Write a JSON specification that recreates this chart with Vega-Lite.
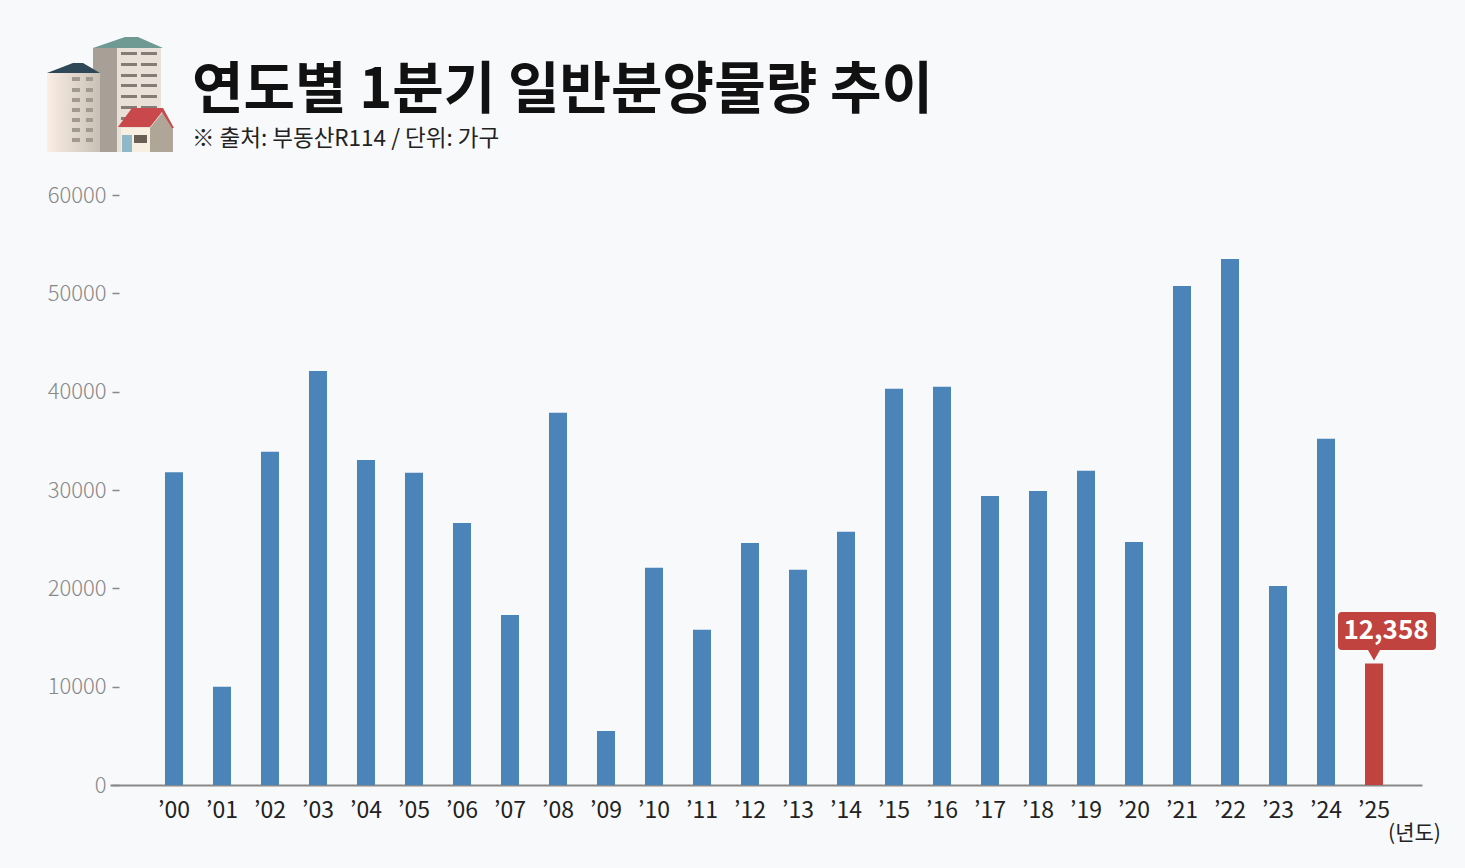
{"$schema":"https://vega.github.io/schema/vega-lite/v6.json","width":1312,"height":590,"autosize":"none","padding":{"left":110,"top":195,"right":43,"bottom":83},"background":"#f8f9fb","title":{"text":"연도별 1분기 일반분양물량 추이","subtitle":"※ 출처: 부동산R114 / 단위: 가구","anchor":"start","frame":"group","dx":82,"offset":-114,"font":"Noto Sans CJK KR","fontSize":56,"fontWeight":"bold","color":"#111111","subtitleFont":"Noto Sans CJK KR","subtitleFontSize":22.5,"subtitleColor":"#222222","subtitleFontWeight":"normal","subtitlePadding":8},"config":{"view":{"stroke":null},"font":"Noto Sans CJK KR"},"data":{"values":[{"year":"’00","units":31800,"kind":"past"},{"year":"’01","units":10000,"kind":"past"},{"year":"’02","units":33900,"kind":"past"},{"year":"’03","units":42100,"kind":"past"},{"year":"’04","units":33050,"kind":"past"},{"year":"’05","units":31750,"kind":"past"},{"year":"’06","units":26650,"kind":"past"},{"year":"’07","units":17300,"kind":"past"},{"year":"’08","units":37850,"kind":"past"},{"year":"’09","units":5500,"kind":"past"},{"year":"’10","units":22100,"kind":"past"},{"year":"’11","units":15800,"kind":"past"},{"year":"’12","units":24600,"kind":"past"},{"year":"’13","units":21900,"kind":"past"},{"year":"’14","units":25750,"kind":"past"},{"year":"’15","units":40300,"kind":"past"},{"year":"’16","units":40500,"kind":"past"},{"year":"’17","units":29400,"kind":"past"},{"year":"’18","units":29900,"kind":"past"},{"year":"’19","units":31950,"kind":"past"},{"year":"’20","units":24700,"kind":"past"},{"year":"’21","units":50750,"kind":"past"},{"year":"’22","units":53500,"kind":"past"},{"year":"’23","units":20250,"kind":"past"},{"year":"’24","units":35200,"kind":"past"},{"year":"’25","units":12358,"kind":"current"}]},"layer":[{"mark":{"type":"bar"},"encoding":{"x":{"field":"year","type":"nominal","sort":null,"scale":{"paddingInner":0.625,"paddingOuter":0.979,"align":0.585},"axis":{"title":"(년도)","titleFont":"Noto Sans CJK KR","titleFontSize":21,"titleFontWeight":"normal","titleColor":"#222222","titleX":1304,"titleY":48,"titleAlign":"center","titleBaseline":"middle","labelAngle":0,"labelFontSize":23,"labelColor":"#222222","labelPadding":14,"ticks":false,"domainColor":"#888888","domainWidth":2,"grid":false}},"y":{"field":"units","type":"quantitative","scale":{"domain":[0,60000],"nice":false},"axis":{"title":null,"values":[0,10000,20000,30000,40000,50000,60000],"format":"d","offset":-9,"domain":false,"grid":false,"tickSize":7,"tickColor":"#888888","tickWidth":1.5,"labelFontSize":22,"labelFontWeight":300,"labelColor":"#888888","labelPadding":6}},"color":{"field":"kind","type":"nominal","scale":{"domain":["past","current"],"range":["#4a84b8","#c0433f"]},"legend":null}}},{"transform":[{"filter":"datum.kind === 'current'"}],"mark":{"type":"point","filled":true,"opacity":1,"size":4,"color":"#c0433f","strokeWidth":0,"shape":"M-32 -51.5H58Q62 -51.5 62 -47.5V-17.5Q62 -13.5 58 -13.5H6L0 -3L-6 -13.5H-32Q-36 -13.5 -36 -17.5V-47.5Q-36 -51.5 -32 -51.5Z"},"encoding":{"x":{"field":"year","type":"nominal","sort":null},"y":{"field":"units","type":"quantitative"}}},{"transform":[{"filter":"datum.kind === 'current'"}],"mark":{"type":"text","font":"Noto Sans CJK KR","fontSize":26,"fontWeight":"bold","color":"#ffffff","dx":12,"dy":-32,"align":"center","baseline":"middle"},"encoding":{"x":{"field":"year","type":"nominal","sort":null},"y":{"field":"units","type":"quantitative"},"text":{"field":"units","type":"quantitative","format":","}}},{"data":{"values":[{"anchor":"icon"}]},"encoding":{"x":{"datum":"’00","type":"nominal"},"y":{"datum":60000,"type":"quantitative"}},"layer":[{"mark":{"type":"point","filled":true,"opacity":1,"size":4,"strokeWidth":0,"color":"#a8a096","shape":"M-81 -147H-57V-43H-81Z"}},{"mark":{"type":"point","filled":true,"opacity":1,"size":4,"strokeWidth":0,"color":"#e9e0d8","shape":"M-57 -147H-13V-43H-57Z"}},{"mark":{"type":"point","filled":true,"opacity":1,"size":4,"strokeWidth":0,"color":"#6f9a94","shape":"M-81 -147L-49 -158H-36L-11 -147Z"}},{"mark":{"type":"point","filled":true,"opacity":1,"size":4,"strokeWidth":0,"color":"#857d75","shape":"M-53 -143H-37V-140H-53ZM-33 -143H-17V-140H-33ZM-53 -132H-37V-129H-53ZM-33 -132H-17V-129H-33ZM-53 -121H-37V-118H-53ZM-33 -121H-17V-118H-33ZM-53 -111H-37V-108H-53ZM-33 -111H-17V-108H-33ZM-53 -100H-37V-97H-53ZM-33 -100H-17V-97H-33ZM-53 -89H-37V-86H-53ZM-33 -89H-17V-86H-33ZM-53 -78H-37V-75H-53Z"}},{"mark":{"type":"point","filled":true,"opacity":1,"size":4,"strokeWidth":0,"color":{"gradient":"linear","x1":0,"y1":0,"x2":1,"y2":0,"stops":[{"offset":0,"color":"#fbeee4"},{"offset":1,"color":"#c9c1b6"}]},"shape":"M-127 -122H-74V-43H-127Z"}},{"mark":{"type":"point","filled":true,"opacity":1,"size":4,"strokeWidth":0,"color":"#2f4858","shape":"M-127 -122L-101 -132H-91L-74 -122Z"}},{"mark":{"type":"point","filled":true,"opacity":1,"size":4,"strokeWidth":0,"color":"#a09a90","shape":"M-102 -118H-94V-114H-102ZM-88 -118H-81V-114H-88ZM-102 -107H-94V-103H-102ZM-88 -107H-81V-103H-88ZM-102 -97H-94V-93H-102ZM-88 -97H-81V-93H-88ZM-102 -87H-94V-83H-102ZM-88 -87H-81V-83H-88ZM-102 -77H-94V-73H-102ZM-88 -77H-81V-73H-88ZM-102 -67H-94V-63H-102ZM-88 -67H-81V-63H-88ZM-102 -57H-94V-53H-102ZM-88 -57H-81V-53H-88Z"}},{"mark":{"type":"point","filled":true,"opacity":1,"size":4,"strokeWidth":0,"color":"#b0a698","shape":"M-24 -67L-11 -83L-1 -67V-43H-24Z"}},{"mark":{"type":"point","filled":true,"opacity":1,"size":4,"strokeWidth":0,"color":"#f8efe3","shape":"M-53 -67H-24V-43H-53Z"}},{"mark":{"type":"point","filled":true,"opacity":1,"size":4,"strokeWidth":0,"color":"#c9484c","shape":"M-56 -68L-42 -87H-11L0 -67H-2L-12 -83L-24 -68Z"}},{"mark":{"type":"point","filled":true,"opacity":1,"size":4,"strokeWidth":0,"color":"#8fb8c9","shape":"M-52 -60H-42V-43H-52Z"}},{"mark":{"type":"point","filled":true,"opacity":1,"size":4,"strokeWidth":0,"color":"#6b5f55","shape":"M-40 -60H-27V-52H-40Z"}}]}]}
